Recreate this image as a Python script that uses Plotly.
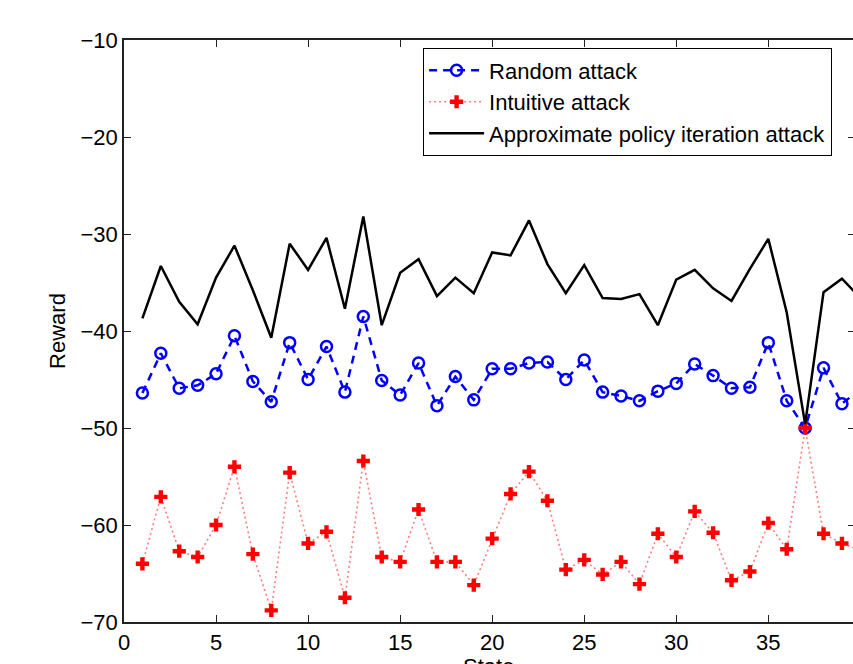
import plotly.graph_objects as go

states = list(range(1, 41))

random_attack = [-46.4, -42.3, -45.9, -45.6, -44.4, -40.5, -45.2, -47.3, -41.2, -45.0,
                 -41.6, -46.3, -38.5, -45.1, -46.6, -43.3, -47.7, -44.7, -47.1, -43.9,
                 -43.9, -43.3, -43.2, -45.0, -43.0, -46.3, -46.7, -47.2, -46.2, -45.4,
                 -43.4, -44.6, -45.9, -45.8, -41.2, -47.2, -50.0, -43.8, -47.5, -46.0]

intuitive_attack = [-64.0, -57.1, -62.7, -63.3, -60.0, -54.0, -63.0, -68.8, -54.6, -61.9,
                    -60.7, -67.5, -53.4, -63.3, -63.8, -58.4, -63.8, -63.8, -66.2, -61.4,
                    -56.8, -54.5, -57.5, -64.6, -63.6, -65.1, -63.8, -66.1, -60.9, -63.3,
                    -58.6, -60.8, -65.7, -64.8, -59.8, -62.5, -50.0, -60.9, -61.9, -62.6]

api_attack = [-38.7, -33.3, -37.0, -39.3, -34.5, -31.2, -35.8, -40.7, -31.0, -33.7,
              -30.4, -37.7, -28.2, -39.4, -34.0, -32.6, -36.4, -34.5, -36.1, -31.9,
              -32.2, -28.6, -33.1, -36.1, -33.2, -36.6, -36.7, -36.2, -39.4, -34.7,
              -33.7, -35.6, -36.9, -33.6, -30.5, -38.1, -49.6, -36.0, -34.6, -36.6]

x_ticks = [0, 5, 10, 15, 20, 25, 30, 35, 40]
y_ticks = [-70, -60, -50, -40, -30, -20, -10]
x_title = "State"
y_title = "Reward"

FONT = "Liberation Sans, Arial, Helvetica, sans-serif"

fig = go.Figure()
fig.add_trace(go.Scatter(
    x=states, y=random_attack, name="Random attack", mode="lines+markers",
    line=dict(color="#0000ff", width=2.5, dash="8px,6px"),
    marker=dict(symbol="circle-open", size=11, color="#0000ff", line=dict(width=2.5, color="#0000ff")),
))
fig.add_trace(go.Scatter(
    x=states, y=intuitive_attack, name="Intuitive attack", mode="lines+markers",
    line=dict(color="rgba(255,40,40,0.6)", width=1.6, dash="2px,3px"),
    marker=dict(symbol="cross", size=11, color="#ff0000", line=dict(width=0)),
))
fig.add_trace(go.Scatter(
    x=states, y=api_attack, name="Approximate policy iteration attack", mode="lines",
    line=dict(color="#000000", width=2.5),
))
fig.add_trace(go.Scatter(
    x=[None], y=[None], yaxis="y2", showlegend=False, hoverinfo="skip", mode="lines",
))

fig.update_layout(
    width=853, height=664, autosize=False,
    margin=dict(l=124, r=0, t=40, b=41.5, pad=0),
    paper_bgcolor="white", plot_bgcolor="white",
    font=dict(family=FONT, size=22, color="black"),
    showlegend=True,
    legend=dict(
        x=0.41, y=0.986, xanchor="left", yanchor="top",
        bgcolor="white", bordercolor="black", borderwidth=1.2,
        font=dict(family=FONT, size=22, color="black"),
        tracegroupgap=0, itemwidth=55,
    ),
    xaxis=dict(
        range=[0, 39.6], tickvals=x_ticks, ticks="inside", ticklen=7, tickwidth=1.2,
        tickcolor="#222", showline=True, linecolor="#222", linewidth=1.5, mirror="ticks",
        showgrid=False, zeroline=False, automargin=False,
        tickfont=dict(family=FONT, size=22),
    ),
    yaxis=dict(
        range=[-70, -10], tickvals=y_ticks, ticks="inside", ticklen=7, tickwidth=1.2,
        tickcolor="#222", showline=True, linecolor="#222", linewidth=1.5, mirror=False,
        showgrid=False, zeroline=False, automargin=False,
        title=dict(text=y_title, standoff=9, font=dict(family=FONT, size=22)),
        tickfont=dict(family=FONT, size=22),
    ),
    yaxis2=dict(
        overlaying="y", side="right", range=[-70, -10], tickvals=y_ticks,
        ticks="inside", ticklen=5, tickwidth=1.2, tickcolor="#222",
        showticklabels=False, showline=False, showgrid=False, zeroline=False,
        automargin=False,
    ),
    annotations=[dict(
        text=x_title, xref="paper", yref="paper", x=0.5, y=-0.051,
        xanchor="center", yanchor="top", showarrow=False,
        font=dict(family=FONT, size=22, color="black"),
    )],
)

post = ("document.documentElement.style.margin='0';document.body.style.margin='0';"
        "document.body.style.padding='0';document.documentElement.style.overflow='hidden';"
        "document.body.style.overflow='hidden';")

fig.write_html("out.html", post_script=post, config={"displayModeBar": False})
